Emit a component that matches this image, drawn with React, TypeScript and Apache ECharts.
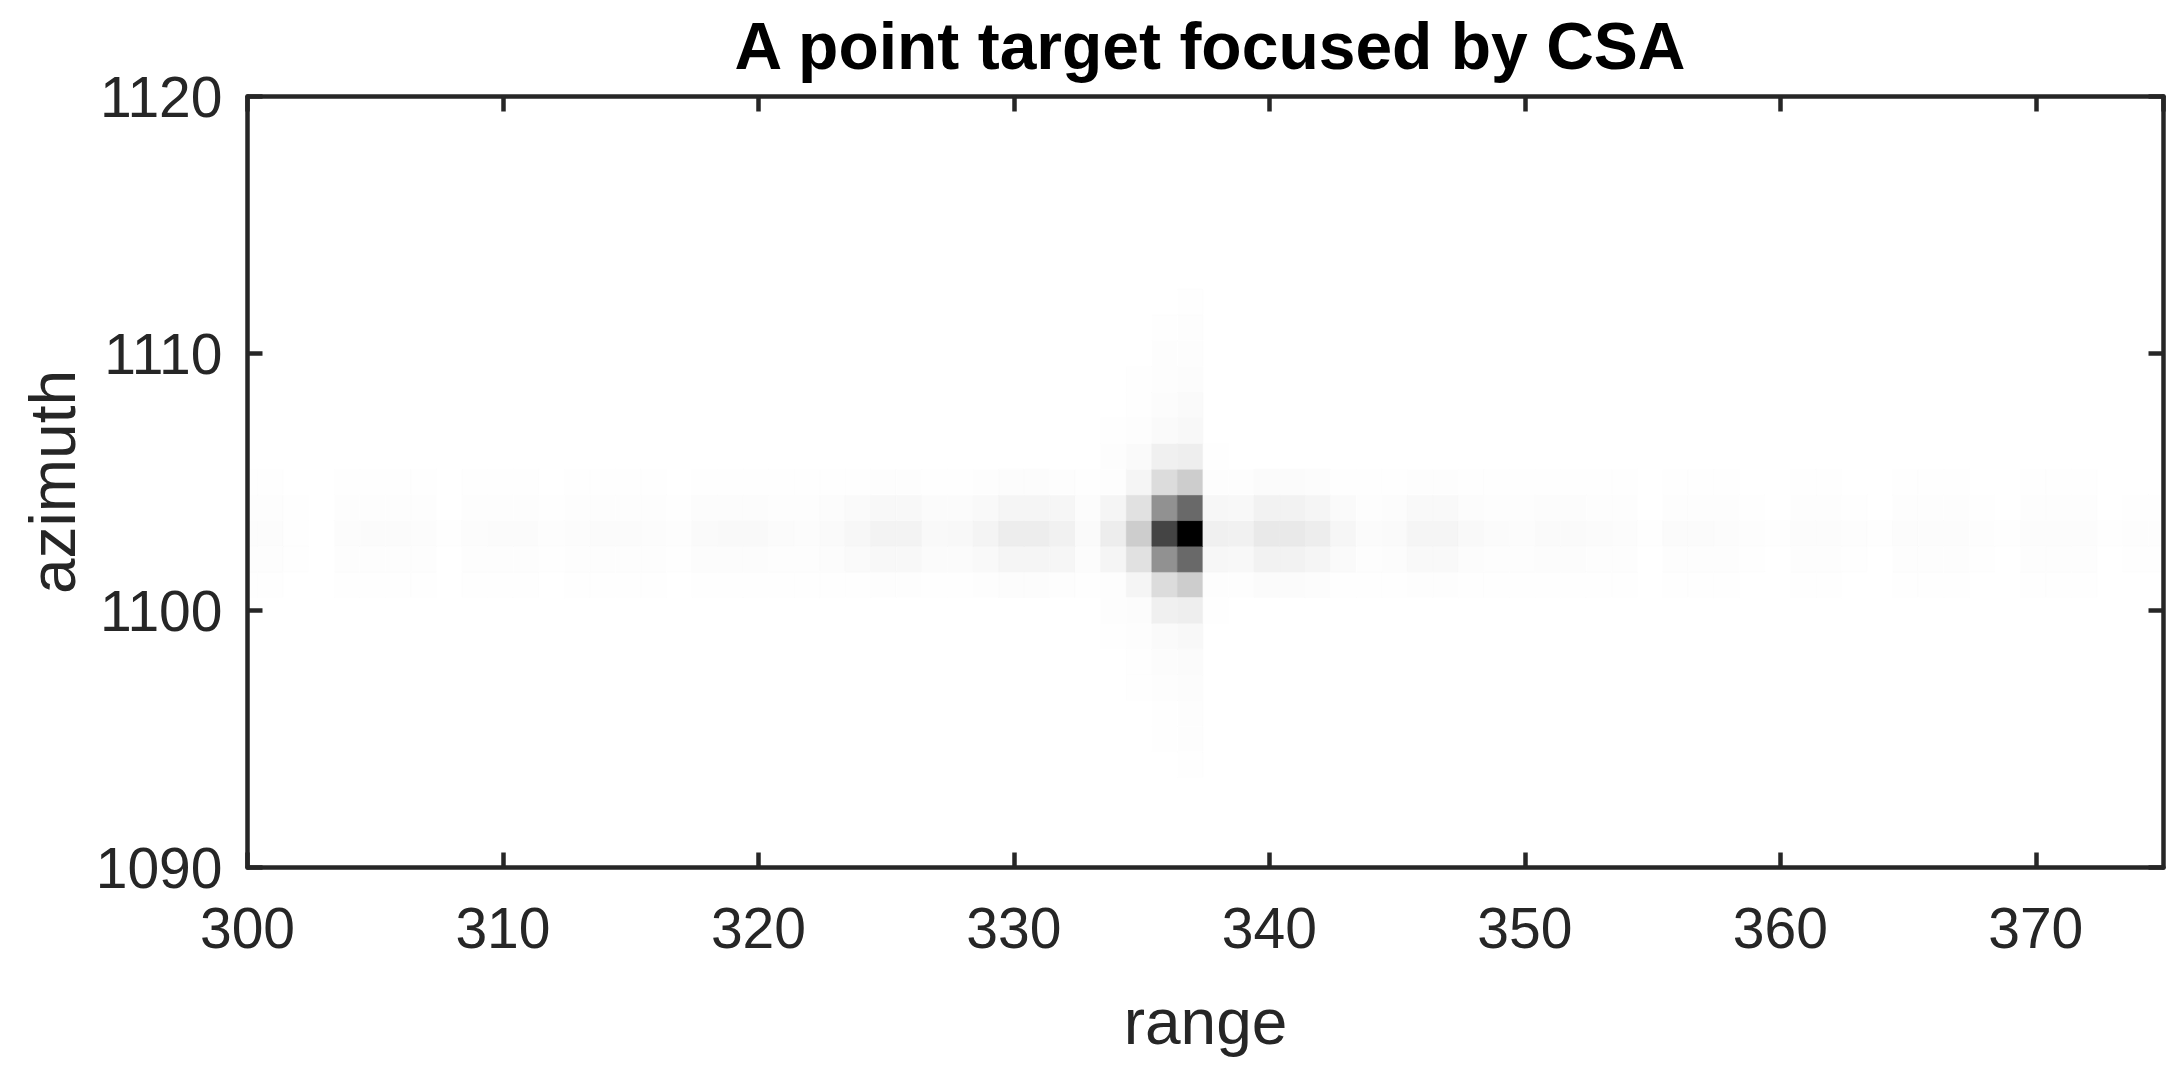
import React, { useEffect, useRef } from "react";
import * as echarts from "echarts";

// ---- text ----
const TITLE = "A point target focused by CSA";
const X_NAME = "range";
const Y_NAME = "azimuth";

// ---- axes ----
const RANGE_MIN = 300;
const RANGE_MAX = 375;
const RANGE_STEP = 10;
const AZ_MIN = 1090;
const AZ_MAX = 1120;
const AZ_STEP = 10;

// range sample centres (one per image column, 1 unit apart)
const FIRST_RANGE_SAMPLE = 299.9;
const rangeSamples = Array.from({ length: 76 }, (_, i) => FIRST_RANGE_SAMPLE + i);

// ---- image intensity (0 = white, 255 = black) ----
// rows through the peak, columns 300..375
const row1103 = [
  3, 3, 1, 0, 3, 4, 4, 3, 1, 3,
  4, 4, 2, 3, 4, 4, 3, 2, 5, 6,
  6, 4, 3, 5, 8, 12, 12, 6, 7, 11,
  18, 18, 14, 5, 18, 50, 187, 255, 15, 14,
  22, 22, 18, 9, 4, 5, 10, 10, 6, 4,
  3, 5, 5, 4, 3, 1, 4, 4, 3, 2,
  1, 3, 3, 2, 1, 3, 3, 3, 2, 1,
  3, 3, 3, 1, 2, 2,
];
const row1104 = [
  2, 2, 1, 0, 2, 2, 2, 2, 0, 2,
  2, 2, 1, 2, 2, 2, 2, 1, 3, 3,
  3, 2, 2, 3, 5, 7, 7, 4, 4, 6,
  10, 10, 9, 3, 10, 30, 110, 150, 8, 7,
  13, 13, 10, 5, 2, 3, 6, 6, 3, 2,
  2, 3, 3, 2, 2, 0, 2, 2, 2, 1,
  0, 2, 2, 1, 0, 2, 2, 2, 1, 0,
  2, 2, 2, 0, 1, 1,
];
const row1102 = [
  2, 2, 1, 0, 2, 2, 2, 2, 0, 2,
  2, 2, 1, 2, 2, 2, 2, 1, 3, 3,
  3, 2, 2, 3, 5, 7, 7, 4, 4, 6,
  10, 10, 9, 3, 10, 30, 110, 150, 8, 7,
  13, 13, 10, 5, 2, 3, 6, 6, 3, 2,
  2, 3, 3, 2, 2, 0, 2, 2, 2, 1,
  0, 2, 2, 1, 0, 2, 2, 2, 1, 0,
  2, 2, 2, 0, 1, 1,
];
const row1105 = [
  1, 1, 0, 0, 1, 1, 1, 1, 0, 1,
  1, 1, 0, 1, 1, 1, 1, 0, 1, 1,
  1, 1, 1, 1, 1, 2, 2, 1, 1, 2,
  3, 3, 2, 1, 2, 10, 35, 50, 2, 2,
  4, 4, 3, 1, 1, 1, 2, 2, 1, 1,
  1, 1, 1, 1, 1, 0, 1, 1, 1, 0,
  0, 1, 1, 0, 0, 1, 1, 1, 0, 0,
  1, 1, 1, 0, 0, 0,
];
const row1101 = [
  1, 1, 0, 0, 1, 1, 1, 1, 0, 1,
  1, 1, 0, 1, 1, 1, 1, 0, 1, 1,
  1, 1, 1, 1, 1, 2, 2, 1, 1, 2,
  3, 3, 2, 1, 2, 10, 35, 50, 2, 2,
  4, 4, 3, 1, 1, 1, 2, 2, 1, 1,
  1, 1, 1, 1, 1, 0, 1, 1, 1, 0,
  0, 1, 1, 0, 0, 1, 1, 1, 0, 0,
  1, 1, 1, 0, 0, 0,
];
const peakRows: [number, number[]][] = [
  [1101, row1101],
  [1102, row1102],
  [1103, row1103],
  [1104, row1104],
  [1105, row1105],
];

// azimuth tail above and below the peak rows, columns 334..338
const tailAzimuths = [1094, 1095, 1096, 1097, 1098, 1099, 1100, 1106, 1107, 1108, 1109, 1110, 1111, 1112];
const tailColumns = [334, 335, 336, 337, 338];
const tail334 = [0, 0, 0, 0, 0, 1, 2, 2, 1, 0, 0, 0, 0, 0];
const tail335 = [0, 0, 0, 1, 1, 2, 3, 5, 2, 1, 1, 0, 0, 0];
const tail336 = [0, 1, 1, 2, 3, 5, 15, 15, 5, 3, 2, 2, 1, 0];
const tail337 = [1, 2, 2, 3, 4, 7, 17, 17, 7, 5, 3, 2, 2, 1];
const tail338 = [0, 0, 0, 0, 0, 0, 1, 1, 0, 0, 0, 0, 0, 0];
const tails = [tail334, tail335, tail336, tail337, tail338];

function buildCells(): number[][] {
  const cells: number[][] = [];
  peakRows.forEach(([az, vals]) => {
    vals.forEach((v, i) => {
      if (v > 0) cells.push([rangeSamples[i], az, v]);
    });
  });
  tailColumns.forEach((col, ci) => {
    const idx = col - RANGE_MIN;
    tails[ci].forEach((v, ri) => {
      if (v > 0) cells.push([rangeSamples[idx], tailAzimuths[ri], v]);
    });
  });
  return cells;
}

const AXIS_COLOR = "#262626";
const FONT = "Liberation Sans";

export default function App() {
  const ref = useRef<HTMLDivElement>(null);
  useEffect(() => {
    document.body.style.margin = "0";
    const chart = echarts.init(ref.current!, null, { renderer: "svg" });
    const cells = buildCells();
    const axisLine = { show: true, onZero: false, lineStyle: { color: AXIS_COLOR, width: 4.5 } };
    const axisTick = { show: true, inside: true, length: 15, lineStyle: { color: AXIS_COLOR, width: 4.5 } };
    const plain = (v: number) => String(v);
    const option: any = {
      animation: false,
      backgroundColor: "#ffffff",
      title: {
        text: TITLE,
        left: 1205,
        top: 8,
        textAlign: "center",
        textStyle: { fontFamily: FONT, fontWeight: "bold", fontSize: 66, color: "#000000" },
      },
      grid: { left: 247.5, right: 18.5, top: 96.5, bottom: 201.5, outerBoundsMode: "none", containLabel: false },
      visualMap: {
        show: false,
        type: "continuous",
        min: 0,
        max: 255,
        dimension: 2,
        seriesIndex: 0,
        inRange: { color: ["#ffffff", "#000000"] },
      },
      xAxis: [
        {
          type: "value",
          position: "bottom",
          z: 10,
          min: RANGE_MIN,
          max: RANGE_MAX,
          interval: RANGE_STEP,
          name: X_NAME,
          nameLocation: "middle",
          nameGap: 122,
          nameTextStyle: { fontFamily: FONT, fontSize: 64, color: AXIS_COLOR },
          axisLine,
          axisTick,
          splitLine: { show: false },
          axisLabel: { fontFamily: FONT, fontSize: 57, color: AXIS_COLOR, margin: 32, showMaxLabel: false, formatter: plain },
        },
        {
          type: "value",
          position: "top",
          z: 10,
          min: RANGE_MIN,
          max: RANGE_MAX,
          interval: RANGE_STEP,
          axisLine,
          axisTick,
          splitLine: { show: false },
          axisLabel: { show: false },
        },
      ],
      yAxis: [
        {
          type: "value",
          position: "left",
          z: 10,
          min: AZ_MIN,
          max: AZ_MAX,
          interval: AZ_STEP,
          name: Y_NAME,
          nameLocation: "middle",
          nameGap: 159,
          nameTextStyle: { fontFamily: FONT, fontSize: 64, color: AXIS_COLOR },
          axisLine,
          axisTick,
          splitLine: { show: false },
          axisLabel: { fontFamily: FONT, fontSize: 57, color: AXIS_COLOR, margin: 25, formatter: plain },
        },
        {
          type: "value",
          position: "right",
          z: 10,
          min: AZ_MIN,
          max: AZ_MAX,
          interval: AZ_STEP,
          axisLine,
          axisTick,
          splitLine: { show: false },
          axisLabel: { show: false },
        },
      ],
      series: [
        {
          type: "custom",
          xAxisIndex: 0,
          yAxisIndex: 0,
          dimensions: ["range", "azimuth", "intensity"],
          encode: { x: 0, y: 1 },
          data: cells,
          z: 1,
          renderItem: (params: any, api: any) => {
            const x = api.value(0);
            const y = api.value(1);
            const a = api.coord([x - 0.5, y + 0.5]);
            const b = api.coord([x + 0.5, y - 0.5]);
            const cs = params.coordSys;
            const shape = echarts.graphic.clipRectByRect(
              { x: a[0], y: a[1], width: b[0] - a[0], height: b[1] - a[1] },
              { x: cs.x + 2, y: cs.y, width: cs.width - 4, height: cs.height }
            );
            if (!shape) return null;
            const color = api.visual("color");
            return {
              type: "rect",
              shape,
              style: { fill: color, stroke: color, lineWidth: 0.6 },
            };
          },
        },
      ],
    };
    chart.setOption(option);
    return () => chart.dispose();
  }, []);
  return <div ref={ref} style={{ width: 2182, height: 1069 }} />;
}
